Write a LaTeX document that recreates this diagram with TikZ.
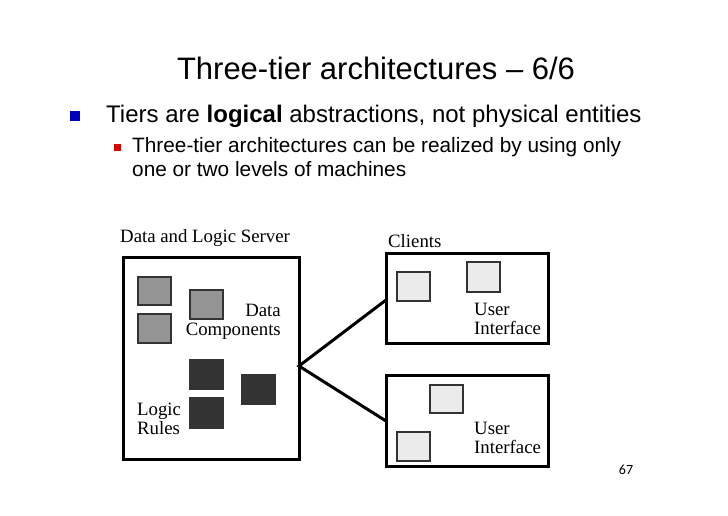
\documentclass[tikz,border=0pt]{standalone}
\usepackage{fontspec}
\setmainfont{Liberation Sans}
\newfontfamily\figfont{Liberation Serif}
\newfontfamily\pgfont{Carlito}
\begin{document}
\begin{tikzpicture}[x=1pt,y=-1pt,
  box/.style={draw=black,line width=3pt},
  sq/.style={draw=black!80,line width=1.3pt},
  gsq/.style={sq,fill=black!42},
  dsq/.style={sq,fill=black!80},
  lsq/.style={sq,fill=black!8},
  lbl/.style={font=\figfont\fontsize{18.8}{19}\selectfont,inner sep=0pt,align=left},
  conn/.style={line width=3pt}]
\useasboundingbox (0,0) rectangle (728,515);
\node[font=\fontsize{31}{36}\selectfont] (title) at (376,68) {Three-tier architectures – 6/6};
\fill[blue!75!black] (70,111) rectangle (80,121);
\node[anchor=west,inner sep=0pt,font=\fontsize{24}{28}\selectfont] (b1) at (106,116) {Tiers are \textbf{logical} abstractions, not physical entities};
\fill[red!85!black] (114,144) rectangle (121,151);
\node[anchor=north west,inner sep=0pt,align=left,font=\fontsize{20.8}{24}\selectfont] (b2) at (132,137) {Three-tier architectures can be realized by using only\\one or two levels of machines};
\draw[box] (123,257) rectangle (299,459);
\draw[box] (386,253) rectangle (548,343);
\draw[box] (386,375) rectangle (548,466);
\coordinate (hub) at (299,366);
\coordinate (c1) at (386,300);
\coordinate (c2) at (386,421);
\draw[conn] (c1) -- (hub) -- (c2);
\draw[gsq] (138,277) rectangle (171,305);
\draw[gsq] (138,314) rectangle (171,343);
\draw[gsq] (190,290) rectangle (223,319);
\draw[dsq] (190,360) rectangle (223,389);
\draw[dsq] (190,398) rectangle (223,428);
\draw[dsq] (242,375) rectangle (275,404);
\draw[lsq] (397,272) rectangle (430,301);
\draw[lsq] (467,262) rectangle (500,292);
\draw[lsq] (430,385) rectangle (463,413);
\draw[lsq] (397,432) rectangle (430,461);
\node[lbl,anchor=west] (srv) at (120,238) {Data and Logic Server};
\node[lbl,anchor=west] (cli) at (388,241) {Clients};
\node[lbl,align=right,anchor=east] (dc) at (281,322) {Data\\Components};
\node[lbl,anchor=west] (lr) at (137,419) {Logic\\Rules};
\node[lbl,anchor=west] (ui1) at (474,319) {User\\Interface};
\node[lbl,anchor=west] (ui2) at (474,438) {User\\Interface};
\node[font=\pgfont\fontsize{14}{16}\selectfont] (pg) at (626,470) {67};
\end{tikzpicture}
\end{document}
